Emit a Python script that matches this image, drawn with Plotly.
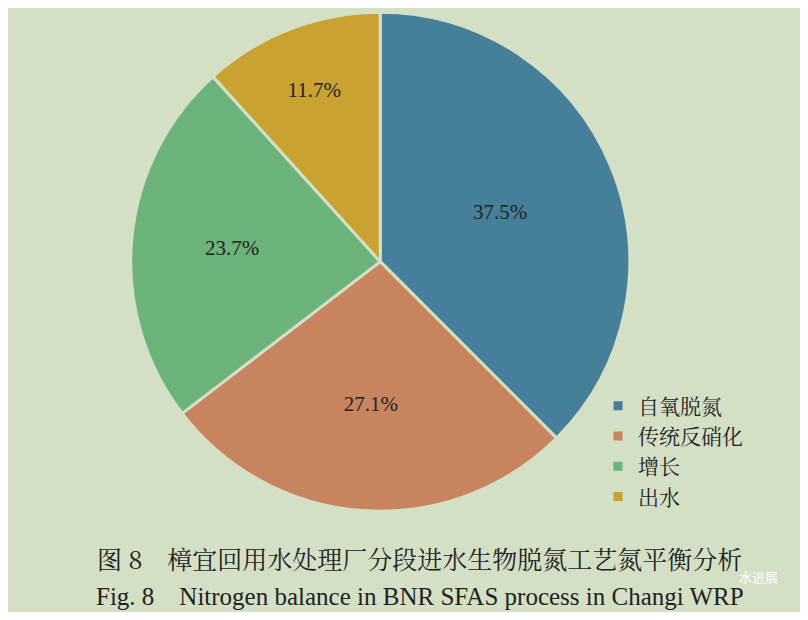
import plotly.graph_objects as go

labels = ["自氧脱氮", "传统反硝化", "增长", "出水"]
values = [37.5, 27.1, 23.7, 11.7]
colors = ["#467f99", "#c7845e", "#6cb27b", "#c9a232"]
bg = "#d3e0c6"

fig = go.Figure()
fig.add_trace(go.Pie(
    labels=labels, values=values, sort=False, direction="clockwise", rotation=0,
    marker=dict(colors=colors, line=dict(color=bg, width=3)),
    texttemplate="%{value:.1f}%", textposition="inside", insidetextorientation="horizontal",
    textfont=dict(family="Liberation Serif", size=21, color="#222222"),
    domain=dict(x=[0.155, 0.785], y=[0.16, 1.0]),
))

fig.add_annotation(x=0.52, y=0.09, xref="paper", yref="paper", yanchor="middle", showarrow=False,
                   text="图 8　樟宜回用水处理厂分段进水生物脱氮工艺氮平衡分析",
                   font=dict(family="Noto Serif CJK SC, Noto Sans CJK SC", size=25, color="#222"))
fig.add_annotation(x=0.52, y=0.0, xref="paper", yref="paper", yanchor="bottom", showarrow=False,
                   text="Fig. 8　Nitrogen balance in BNR SFAS process in Changi WRP",
                   font=dict(family="Liberation Serif", size=25, color="#222"))
fig.add_annotation(x=0.975, y=0.058, xref="paper", yref="paper", yanchor="middle", showarrow=False,
                   text="水进展", font=dict(family="Noto Sans CJK SC", size=13, color="#ffffff"))

fig.update_layout(
    width=792, height=604, paper_bgcolor=bg, plot_bgcolor=bg,
    margin=dict(l=0, r=0, t=0, b=0),
    legend=dict(x=0.745, y=0.375, xanchor="left", yanchor="top",
                font=dict(family="Noto Serif CJK SC, Noto Sans CJK SC", size=21, color="#222"),
                itemwidth=30, tracegroupgap=0, bgcolor="rgba(0,0,0,0)"),
)
fig.write_html("out.html")
